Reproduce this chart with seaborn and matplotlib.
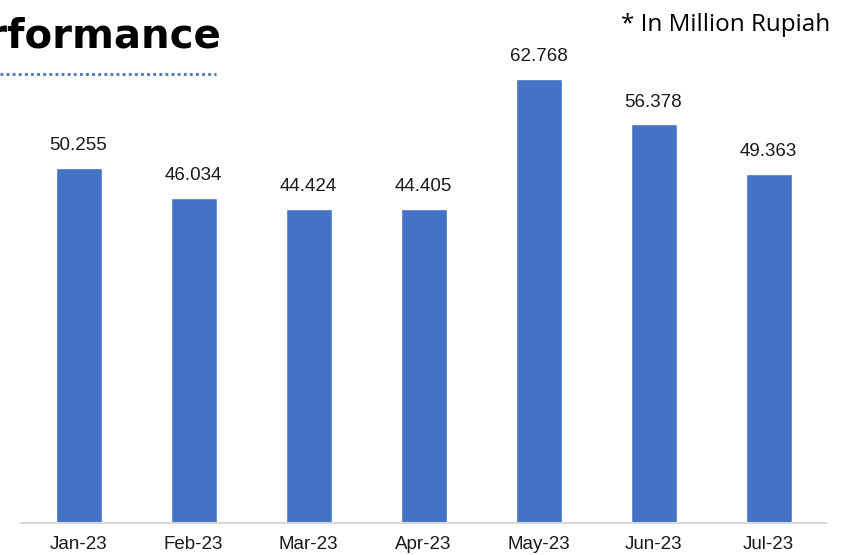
import pandas as pd
import seaborn as sns
import matplotlib.pyplot as plt
from matplotlib.lines import Line2D

# data
months = ['Jan-23', 'Feb-23', 'Mar-23', 'Apr-23', 'May-23', 'Jun-23', 'Jul-23']
sales = [50.255, 46.034, 44.424, 44.405, 62.768, 56.378, 49.363]

df = pd.DataFrame({'month': months, 'sales': sales})

sns.set_style('white')
plt.rcParams['font.family'] = ['Liberation Sans', 'DejaVu Sans']

fig = plt.figure(figsize=(8.41, 5.55), dpi=100)
ax = fig.add_axes([21 / 841, 1 - 523 / 555, 805 / 841, (523 - 50) / 555])

sns.barplot(data=df, x='month', y='sales', color='#4472C4', width=0.4,
            saturation=1, ax=ax)

ax.bar_label(ax.containers[0], labels=[f'{v:.3f}' for v in sales],
             padding=10, fontsize=13.5, color='#1a1a1a')

ax.set_xlim(-0.5, 6.5)
ax.set_ylim(0, 66.9)
ax.set_xlabel('')
ax.set_ylabel('')
ax.set_yticks([])
ax.tick_params(axis='x', length=0, pad=9.5, labelsize=13.5, labelcolor='#1a1a1a')
for side in ['left', 'right', 'top']:
    ax.spines[side].set_visible(False)
ax.spines['bottom'].set_color('#d9d9d9')
ax.spines['bottom'].set_linewidth(1.5)

# title, cut off at the left edge like the reference
fig.text(221 / 841, 1 - 47 / 555, 'Sales Performance', ha='right', va='baseline',
         fontsize=29, fontweight='bold', family=['DejaVu Sans'], color='black')
fig.add_artist(Line2D([0, 216 / 841], [1 - 74 / 555, 1 - 74 / 555],
                      transform=fig.transFigure, color='#4472C4',
                      linestyle=(0, (1, 1.2)), linewidth=2))

fig.text(830 / 841, 1 - 31 / 555, '* In Million Rupiah', ha='right', va='baseline',
         fontsize=17.5, family=['Open Sans', 'DejaVu Sans'], color='black')

fig.savefig('out.png', dpi=100)
